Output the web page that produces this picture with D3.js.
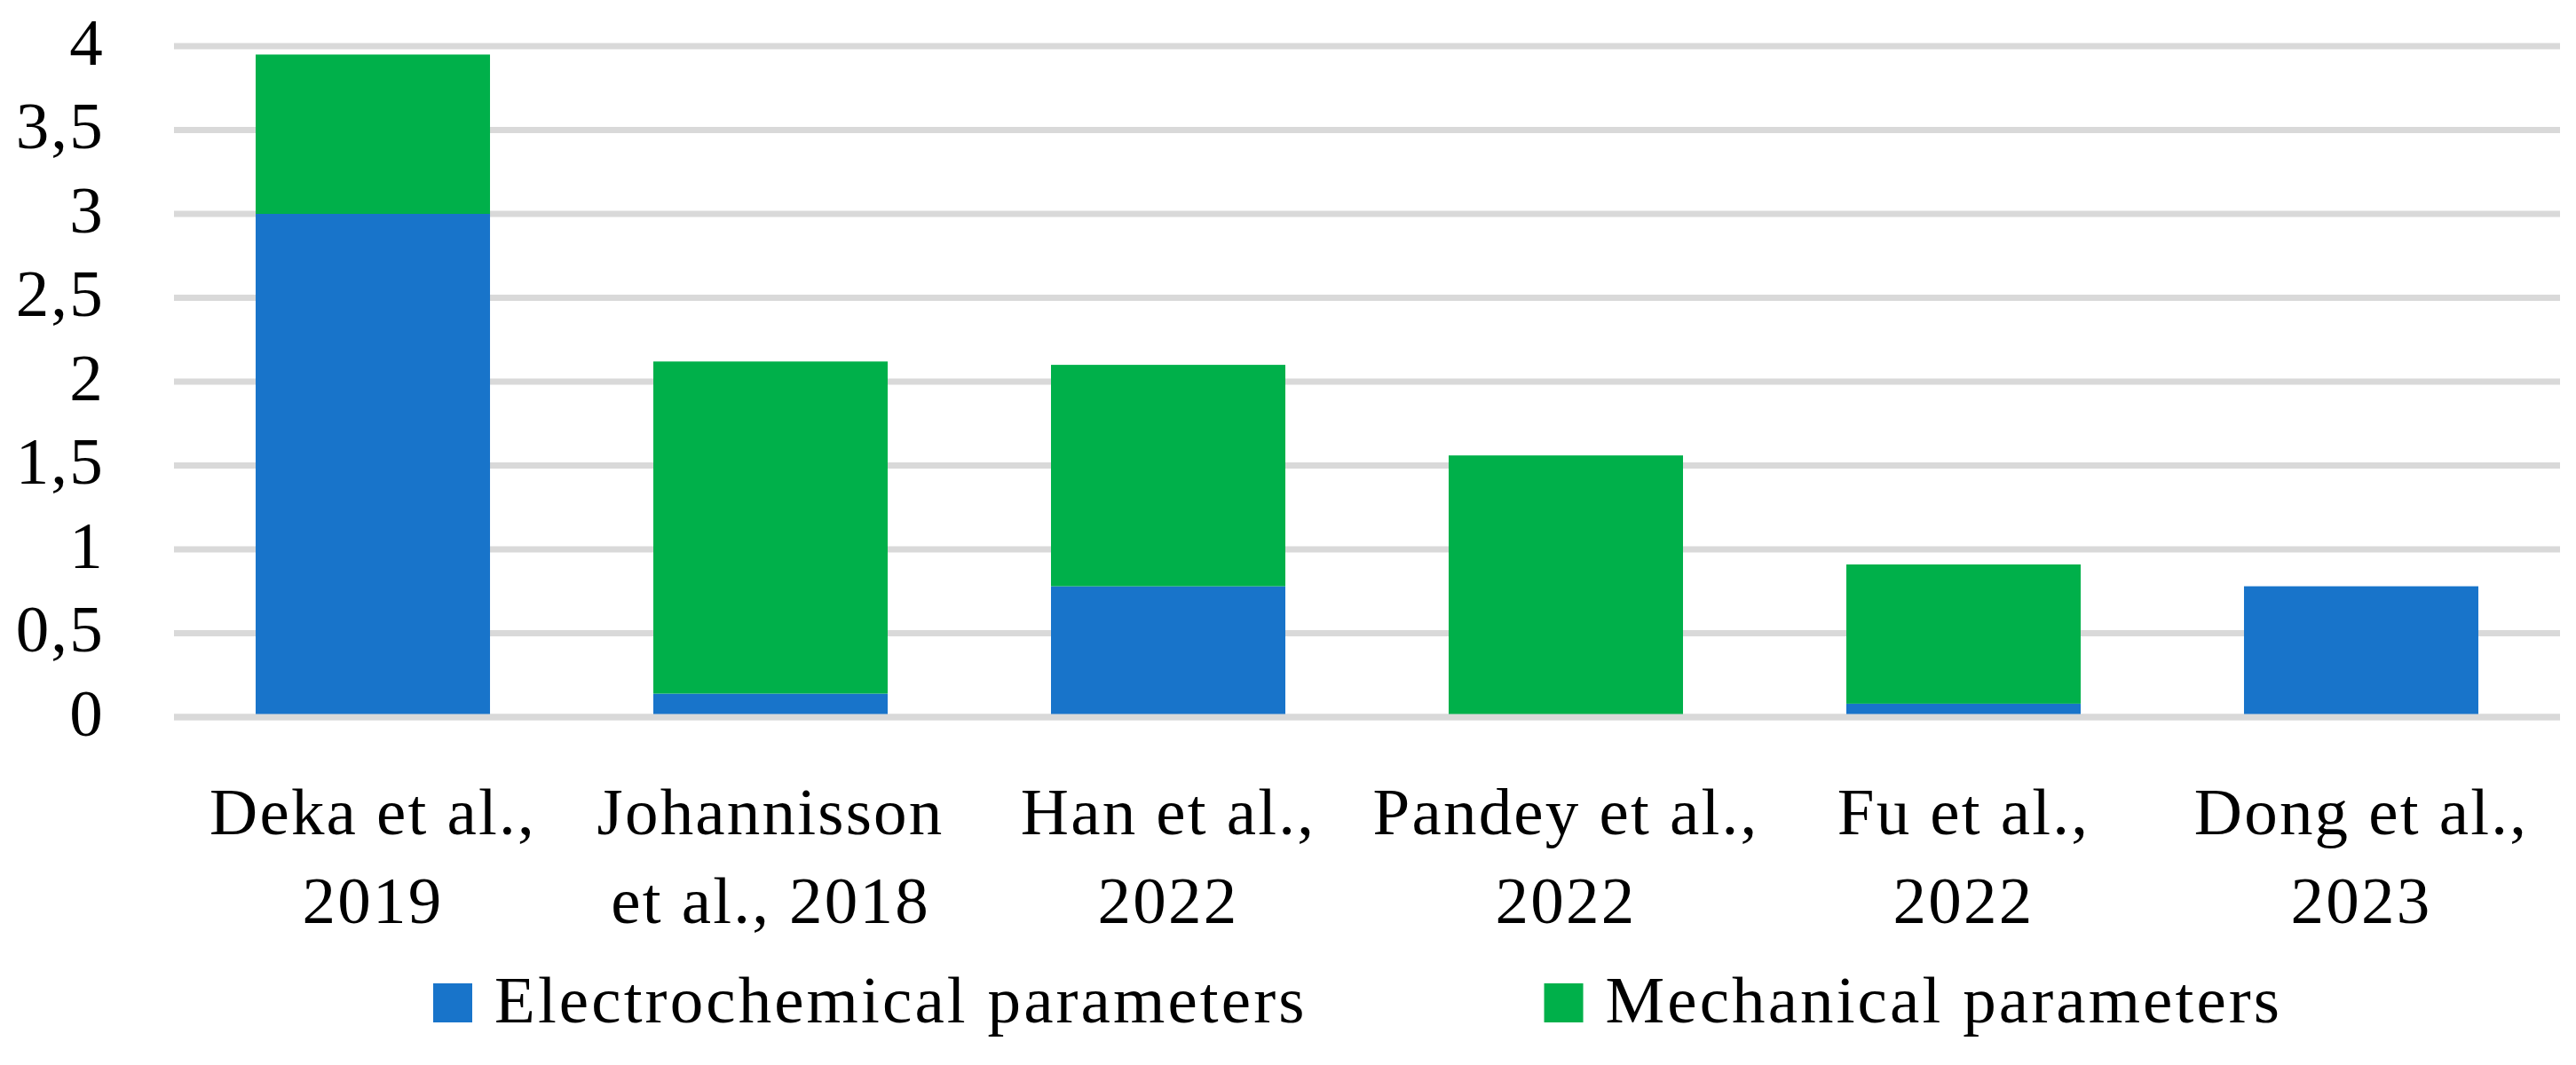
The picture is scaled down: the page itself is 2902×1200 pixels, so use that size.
<!DOCTYPE html>
<html>
<head>
<meta charset="utf-8">
<script src="https://cdn.jsdelivr.net/npm/d3@7"></script>
<style>
  html, body { margin: 0; padding: 0; background: #ffffff; }
  svg { display: block; }
  text { font-family: "Liberation Serif", "Times New Roman", serif; fill: #000; }
</style>
</head>
<body>
<svg id="chart" width="2902" height="1200"></svg>
<script>
// ---- data ----
const categories = [
  "Deka et al.,\n2019",
  "Johannisson\net al., 2018",
  "Han et al.,\n2022",
  "Pandey et al.,\n2022",
  "Fu et al.,\n2022",
  "Dong et al.,\n2023"
];
const seriesNames = ["Electrochemical parameters", "Mechanical parameters"];
const electrochemical = [3.0, 0.14, 0.78, 0.0, 0.08, 0.78];
const mechanical = [0.95, 1.98, 1.32, 1.56, 0.83, 0.0];
const yTicks = [0, 0.5, 1, 1.5, 2, 2.5, 3, 3.5, 4];
const yTickLabels = ["0", "0,5", "1", "1,5", "2", "2,5", "3", "3,5", "4"];
const colors = ["#1874CA", "#00B04A"];

// ---- layout ----
const W = 2902, H = 1200;
const plot = { left: 196, right: 2884, top: 52, bottom: 808 };
const fontSize = 75;
const letterSpacing = 2.2;
const legendLetterSpacing = 3.1;

const svg = d3.select("#chart");
svg.append("rect").attr("width", W).attr("height", H).attr("fill", "#fff");

const rows = categories.map((c, i) => ({
  cat: c,
  [seriesNames[0]]: electrochemical[i],
  [seriesNames[1]]: mechanical[i]
}));

const x = d3.scaleBand()
  .domain(categories)
  .range([plot.left, plot.right])
  .paddingInner(0.4107)
  .paddingOuter(0.2054);

const y = d3.scaleLinear().domain([0, 4]).range([plot.bottom, plot.top]);

// gridlines
const grid = svg.append("g");
grid.selectAll("line").data(yTicks).join("line")
  .attr("x1", plot.left).attr("x2", plot.right)
  .attr("y1", d => y(d)).attr("y2", d => y(d))
  .attr("stroke", "#d9d9d9").attr("stroke-width", 7);

// stacked bars
const stack = d3.stack().keys(seriesNames)(rows);
svg.append("g").selectAll("g").data(stack).join("g")
  .attr("fill", (d, i) => colors[i])
  .selectAll("rect").data(d => d).join("rect")
  .attr("x", d => x(d.data.cat))
  .attr("width", x.bandwidth())
  .attr("y", d => y(d[1]))
  .attr("height", d => Math.max(0, y(d[0]) - y(d[1])));

// axis line (zero gridline) over bars
svg.append("line")
  .attr("x1", plot.left).attr("x2", plot.right)
  .attr("y1", y(0)).attr("y2", y(0))
  .attr("stroke", "#d9d9d9").attr("stroke-width", 7);

// y axis labels
const yAxis = d3.axisLeft(y).tickValues(yTicks)
  .tickFormat((d, i) => yTickLabels[i]).tickSize(0).tickPadding(0);
const yg = svg.append("g").attr("transform", `translate(118,0)`).call(yAxis);
yg.select(".domain").remove();
yg.selectAll("text")
  .attr("font-family", "Liberation Serif, serif")
  .attr("font-size", fontSize)
  .attr("letter-spacing", letterSpacing)
  .attr("fill", "#000")
  .attr("dy", null)
  .attr("y", 20)
  .attr("text-anchor", "end");

// x axis labels
const xAxis = d3.axisBottom(x).tickSize(0).tickFormat(() => "");
const xg = svg.append("g").attr("transform", `translate(0,${y(0)})`).call(xAxis);
xg.select(".domain").remove();
xg.selectAll(".tick").each(function(d) {
  const t = d3.select(this).append("text")
    .attr("text-anchor", "middle")
    .attr("font-size", fontSize)
    .attr("letter-spacing", letterSpacing);
  d.split("\n").forEach((line, i) => {
    t.append("tspan").attr("x", 0).attr("y", 132 + i * 100).text(line);
  });
});

// legend
const legend = svg.append("g");
let lx = 488;
seriesNames.forEach((name, i) => {
  legend.append("rect")
    .attr("x", lx).attr("y", 1108).attr("width", 44).attr("height", 44)
    .attr("fill", colors[i]);
  const t = legend.append("text")
    .attr("x", lx + 69).attr("y", 1152)
    .attr("font-size", fontSize)
    .attr("letter-spacing", legendLetterSpacing)
    .text(name);
  lx = lx + 69 + t.node().getComputedTextLength() + 267;
});
</script>
</body>
</html>
